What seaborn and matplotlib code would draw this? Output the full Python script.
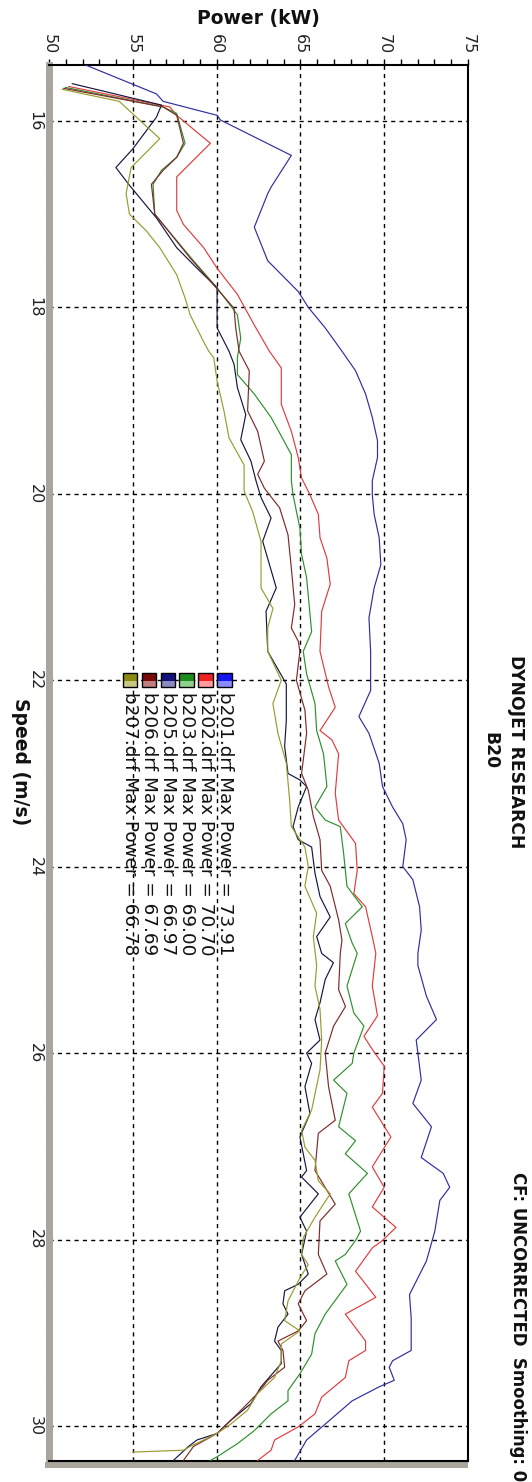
import numpy as np
import pandas as pd
import matplotlib
matplotlib.use("Agg")
import matplotlib.pyplot as plt
import seaborn as sns
from matplotlib.patches import Rectangle

# ---------------- data (speed in m/s, power in kW) ----------------
runs = ["b201.drf", "b202.drf", "b203.drf", "b205.drf", "b206.drf", "b207.drf"]
max_power = [73.91, 70.70, 69.00, 66.97, 67.69, 66.78]

b201_speed = [15.40, 15.71, 15.79, 15.94, 15.99, 16.37, 16.71, 16.78, 17.14, 17.50, 17.83, 18.00, 18.22, 18.47, 18.68,
              18.93, 19.18, 19.43, 19.61, 19.86, 20.01, 20.22, 20.47, 20.76, 21.01, 21.33, 21.69, 22.11, 22.39, 22.57,
              22.89, 23.14, 23.36, 23.54, 23.71, 24.00, 24.14, 24.43, 24.68, 24.93, 25.06, 25.39, 25.64, 25.86, 26.00,
              26.29, 26.54, 26.79, 27.12, 27.29, 27.44, 27.58, 27.91, 28.23, 28.59, 28.84, 29.19, 29.30, 29.37, 29.51,
              29.58, 29.73, 29.98, 30.15, 30.37]
b201_power = [52.18, 56.41, 56.81, 60.03, 60.23, 64.46, 63.25, 63.05, 62.25, 63.05, 64.87, 65.47, 66.48, 67.48, 68.29,
              68.89, 69.29, 69.60, 69.60, 69.29, 69.29, 69.40, 69.70, 69.80, 69.40, 69.09, 69.19, 69.19, 68.49, 69.09,
              69.70, 69.90, 70.50, 71.11, 71.31, 71.11, 71.71, 72.11, 72.21, 72.01, 72.01, 72.52, 73.12, 71.91, 72.01,
              72.21, 71.71, 72.82, 72.21, 73.52, 73.91, 73.32, 73.02, 72.52, 71.51, 71.61, 71.61, 70.50, 70.30, 70.60,
              69.70, 68.09, 66.48, 65.37, 64.66]

b202_speed = [15.63, 15.85, 15.94, 16.24, 16.60, 16.96, 17.11, 17.36, 17.58, 17.86, 18.19, 18.47, 18.65, 19.04, 19.33,
              19.61, 19.83, 20.01, 20.22, 20.47, 20.69, 20.97, 21.26, 21.69, 22.07, 22.29, 22.54, 22.64, 22.79, 23.21,
              23.50, 23.75, 24.04, 24.29, 24.43, 24.75, 24.93, 25.28, 25.60, 25.82, 25.96, 26.14, 26.43, 26.58, 26.90,
              27.22, 27.44, 27.65, 27.87, 28.01, 28.09, 28.34, 28.62, 28.80, 29.09, 29.19, 29.30, 29.48, 29.69, 29.87,
              30.01, 30.15, 30.26, 30.37]
b202_power = [51.17, 57.21, 57.62, 59.63, 57.62, 57.62, 58.02, 59.23, 60.03, 61.24, 62.25, 63.15, 63.86, 63.86, 64.46,
              64.87, 65.07, 65.57, 66.07, 66.17, 66.58, 66.78, 66.27, 66.17, 66.68, 67.08, 66.17, 66.88, 67.28, 67.08,
              67.28, 68.29, 68.39, 68.19, 68.89, 69.29, 69.50, 69.29, 69.60, 68.79, 69.29, 70.00, 69.90, 69.29, 70.40,
              69.29, 70.00, 69.29, 70.70, 69.90, 69.29, 68.29, 69.50, 67.68, 68.89, 68.89, 67.89, 67.68, 66.27, 65.87,
              64.87, 63.46, 63.25, 62.45]

b203_speed = [15.64, 15.85, 15.92, 16.24, 16.39, 16.53, 16.68, 17.00, 17.11, 17.50, 17.79, 18.08, 18.33, 18.54, 18.72,
              18.93, 19.18, 19.38, 19.58, 19.86, 20.01, 20.37, 20.65, 20.90, 21.48, 21.69, 21.93, 22.25, 22.54, 22.79,
              23.14, 23.36, 23.50, 23.57, 23.86, 24.21, 24.43, 24.61, 24.82, 24.93, 25.28, 25.57, 25.71, 26.00, 26.11,
              26.29, 26.43, 26.79, 26.94, 27.08, 27.29, 27.51, 27.91, 28.01, 28.16, 28.23, 28.48, 28.80, 29.01, 29.23,
              29.44, 29.62, 29.73, 29.87, 30.05, 30.19, 30.33, 30.37]
b203_power = [50.97, 56.81, 57.62, 58.12, 57.62, 56.71, 56.21, 56.31, 56.81, 58.62, 60.03, 61.24, 61.44, 61.24, 61.24,
              62.25, 63.25, 63.86, 64.46, 64.46, 64.56, 64.97, 65.07, 65.37, 65.67, 65.17, 65.37, 65.87, 65.97, 66.38,
              66.58, 65.87, 66.48, 67.38, 67.58, 67.78, 68.69, 67.68, 68.09, 68.39, 67.78, 68.19, 68.79, 68.19, 68.09,
              66.98, 67.78, 67.28, 68.29, 67.68, 69.00, 67.89, 68.59, 68.29, 67.68, 67.08, 67.78, 66.48, 65.87, 65.67,
              64.97, 64.26, 64.26, 63.25, 62.25, 61.24, 60.03, 59.63]

b205_speed = [15.60, 15.83, 15.96, 16.30, 16.50, 16.69, 17.04, 17.36, 17.58, 17.79, 18.01, 18.22, 18.47, 18.61, 18.86,
              19.15, 19.42, 19.65, 19.86, 20.04, 20.26, 20.51, 21.01, 21.26, 21.69, 22.04, 22.43, 22.71, 23.00, 23.07,
              23.14, 23.36, 23.57, 23.71, 23.79, 24.07, 24.32, 24.54, 24.75, 24.93, 25.03, 25.21, 25.46, 25.64, 25.86,
              26.00, 26.11, 26.36, 26.65, 26.90, 27.26, 27.33, 27.51, 27.76, 27.91, 28.16, 28.37, 28.48, 28.55, 28.69,
              28.80, 28.94, 29.09, 29.19, 29.33, 29.58, 29.76, 29.94, 30.08, 30.15, 30.22, 30.37]
b205_power = [51.38, 56.71, 56.41, 55.00, 53.99, 54.80, 56.41, 57.62, 58.83, 60.03, 60.03, 60.03, 60.74, 61.04, 61.24,
              61.74, 61.44, 62.05, 62.35, 62.65, 63.25, 62.75, 63.56, 62.95, 63.05, 64.16, 64.16, 64.06, 64.26, 64.97,
              65.37, 64.87, 64.56, 64.87, 65.67, 65.87, 66.17, 66.78, 65.97, 66.27, 66.97, 66.48, 66.17, 65.87, 66.17,
              65.37, 65.67, 65.27, 65.57, 64.97, 65.37, 65.07, 66.07, 64.97, 65.37, 65.07, 65.47, 64.87, 64.06, 63.96,
              64.26, 63.66, 63.46, 63.86, 63.86, 62.65, 62.05, 60.84, 60.03, 58.83, 58.32, 57.42]

b206_speed = [15.65, 15.85, 15.94, 16.24, 16.39, 16.53, 16.68, 17.00, 17.11, 17.47, 17.76, 18.01, 18.22, 18.47, 18.68,
              19.11, 19.33, 19.65, 19.79, 19.94, 20.15, 20.44, 20.80, 21.19, 21.44, 21.58, 21.69, 22.00, 22.32, 22.57,
              23.00, 23.18, 23.46, 23.71, 24.04, 24.21, 24.57, 24.79, 24.93, 25.32, 25.50, 25.71, 26.00, 26.36, 26.72,
              26.86, 27.26, 27.62, 27.80, 28.16, 28.37, 28.55, 28.69, 28.87, 28.98, 29.09, 29.19, 29.37, 29.51, 29.65,
              29.87, 30.08, 30.22, 30.37]
b206_power = [50.87, 56.81, 57.62, 58.02, 57.62, 56.81, 56.11, 56.31, 56.81, 58.42, 59.83, 61.04, 61.14, 61.34, 61.95,
              61.85, 62.45, 62.85, 62.45, 62.85, 63.76, 64.26, 64.46, 64.66, 64.46, 64.87, 64.97, 64.76, 65.27, 65.37,
              65.07, 65.47, 65.77, 66.17, 66.27, 66.78, 67.28, 67.48, 67.38, 67.28, 67.69, 66.98, 66.48, 66.68, 67.08,
              66.07, 65.87, 67.08, 66.17, 66.07, 66.58, 65.27, 64.87, 65.37, 64.87, 63.66, 63.96, 64.06, 63.05, 62.45,
              61.24, 60.03, 58.62, 58.02]

b207_speed = [15.66, 15.79, 15.99, 16.19, 16.50, 16.78, 17.00, 17.18, 17.36, 17.65, 17.90, 18.08, 18.37, 18.47, 18.54,
              18.79, 19.11, 19.40, 19.69, 19.97, 20.19, 20.51, 21.01, 21.23, 21.44, 21.69, 22.00, 22.25, 22.57, 22.89,
              23.29, 23.57, 23.79, 24.00, 24.21, 24.50, 24.75, 25.06, 25.28, 25.53, 25.86, 26.18, 26.61, 26.83, 27.01,
              27.15, 27.37, 27.51, 27.76, 27.98, 28.16, 28.27, 28.41, 28.66, 28.87, 28.98, 29.12, 29.30, 29.48, 29.65,
              29.83, 29.98, 30.08, 30.22, 30.26, 30.28]
b207_power = [50.77, 54.19, 55.40, 56.61, 54.90, 54.60, 54.80, 55.81, 56.61, 57.62, 58.12, 58.42, 59.23, 59.53, 59.83,
              60.03, 60.44, 60.74, 61.64, 61.64, 62.15, 62.65, 62.65, 63.36, 63.05, 63.05, 63.86, 63.36, 63.66, 64.16,
              64.36, 64.46, 65.27, 65.47, 65.27, 65.97, 65.77, 65.97, 65.87, 66.17, 66.27, 66.17, 65.67, 65.07, 65.27,
              65.87, 66.07, 66.78, 65.87, 65.17, 65.07, 65.47, 64.97, 64.26, 64.06, 64.97, 63.86, 63.86, 63.46, 62.45,
              61.85, 60.84, 60.03, 58.42, 58.02, 55.00]

power_ticks = [50, 55, 60, 65, 70, 75]
speed_ticks = [16, 18, 20, 22, 24, 26, 28, 30]

# ---------------- style ----------------
line_colors = ['#2e2ea0', '#e03c3c', '#2e8f2e', '#16163e', '#7d2a2a', '#9a9a30']
square_colors = ['#1515ee', '#ee2020', '#1c8c1c', '#12127a', '#7a0a0a', '#8a8a12']
square_light = ['#8a8aff', '#ff9a9a', '#8fd08f', '#8a8ac0', '#c08080', '#c8c880']
shadow = '#a8a69c'

sns.set_theme(style="white")
plt.rcParams['font.family'] = ['DejaVu Sans']

W, H = 532, 1482
fig = plt.figure(figsize=(W / 100, H / 100), dpi=100)
fig.patch.set_facecolor('white')
ax_l, ax_r, ax_t, ax_b = 49, 468, 65, 1461.4
aw, ah = ax_r - ax_l, ax_b - ax_t
ax = fig.add_axes([ax_l / W, 1 - ax_b / H, aw / W, ah / H])

speeds = [b201_speed, b202_speed, b203_speed, b205_speed, b206_speed, b207_speed]
powers = [b201_power, b202_power, b203_power, b205_power, b206_power, b207_power]
frames = []
for name, s, p in zip(runs, speeds, powers):
    d = pd.DataFrame({"speed": s, "power": p})
    d["run"] = name
    frames.append(d)
df = pd.concat(frames, ignore_index=True)

sns.lineplot(data=df, x="power", y="speed", hue="run", hue_order=runs,
             palette=dict(zip(runs, line_colors)), sort=False, estimator=None,
             legend=False, linewidth=0.85, ax=ax, zorder=3)

ax.set_xlim(50, 75)
ax.set_ylim(30.38, 15.40)

ax.xaxis.tick_top()
ax.xaxis.set_label_position('top')
ax.set_xticks(power_ticks)
ax.set_xticks(np.arange(50, 76, 1), minor=True)
ax.set_yticks(speed_ticks)
ax.set_yticks(np.arange(15.5, 30.5, 0.5), minor=True)

ax.tick_params(axis='x', which='both', direction='out', length=4.5, width=1,
               color='black', top=True, bottom=False, labeltop=True, labelbottom=False)
ax.tick_params(axis='x', which='major', labelrotation=-90, labelsize=11.5, pad=3.5,
               labelcolor='#222222')
ax.tick_params(axis='y', which='both', direction='inout', length=5, width=1,
               color='black', left=True, right=False)
ax.tick_params(axis='y', which='major', labelrotation=-90, labelsize=11.5, pad=2,
               labelcolor='#222222')
for lab in ax.get_yticklabels():
    lab.set_va('center')

ax.grid(True, which='major', color='black', linestyle=(0, (3, 3)), linewidth=1.0, zorder=1)
ax.set_axisbelow(True)
for sp in ax.spines.values():
    sp.set_color('black')
    sp.set_linewidth(1.5)
# the left frame side is drawn as the grey shadow band of the original chart
ax.spines['left'].set_color(shadow)
ax.spines['left'].set_linewidth(5.0)
ax.spines['left'].set_zorder(1.0)

ax.set_xlabel("Power (kW)", fontsize=13.5, fontweight='bold', color='#111111')
ax.xaxis.set_label_coords(0.5, 1 + (ax_t - 18.7) / ah)
ax.xaxis.label.set_va('center')
ax.set_ylabel("Speed (m/s)", fontsize=13.5, fontweight='bold', rotation=-90, color='#111111')
ax.yaxis.set_label_coords((20.4 - ax_l) / aw, 1 - (762 - ax_t) / ah)
ax.yaxis.label.set_va('center')
ax.yaxis.label.set_ha('center')

# bottom shadow of the chart frame
fig.add_artist(Rectangle((45 / W, 1 - 1467.5 / H), (ax_r - 45) / W, 6 / H,
                         transform=fig.transFigure, facecolor=shadow, edgecolor='none', zorder=-1))

# legend (rotated, drawn manually)
for i, (name, mp) in enumerate(zip(runs, max_power)):
    xc = (224.5 - 18.9 * i - ax_l) / aw
    yc = 1 - (680 - ax_t) / ah
    sw, sh = 14.5 / aw, 14.5 / ah
    ax.add_patch(Rectangle((xc - sw / 2, yc - sh / 2 + sh * 0.45), sw, sh * 0.55, transform=ax.transAxes,
                           facecolor=square_colors[i], edgecolor='none', zorder=5, clip_on=False))
    ax.add_patch(Rectangle((xc - sw / 2, yc - sh / 2), sw, sh * 0.45, transform=ax.transAxes,
                           facecolor=square_light[i], edgecolor='none', zorder=5, clip_on=False))
    ax.add_patch(Rectangle((xc - sw / 2, yc - sh / 2), sw, sh, transform=ax.transAxes,
                           facecolor='none', edgecolor='black', linewidth=1, zorder=6, clip_on=False))
    ax.text(xc, 1 - (692 - ax_t) / ah, f"{name} Max Power = {mp:.2f}", transform=ax.transAxes,
            rotation=-90, ha='center', va='top', fontsize=13.2, color='#111111', zorder=6)

# titles
fig.text(515.8 / W, 1 - 752 / H, "DYNOJET RESEARCH", rotation=-90, ha='center', va='center',
         fontsize=12.3, fontweight='bold', color='#111111')
fig.text(490.3 / W, 1 - 751 / H, "B20", rotation=-90, ha='center', va='center',
         fontsize=12.3, fontweight='bold', color='#111111')
fig.text(518 / W, 1 - 1172 / H, "CF: UNCORRECTED  Smoothing: 0", rotation=-90, ha='center', va='top',
         fontsize=11.9, fontweight='bold', color='#111111')

fig.savefig("out.png", dpi=100)
